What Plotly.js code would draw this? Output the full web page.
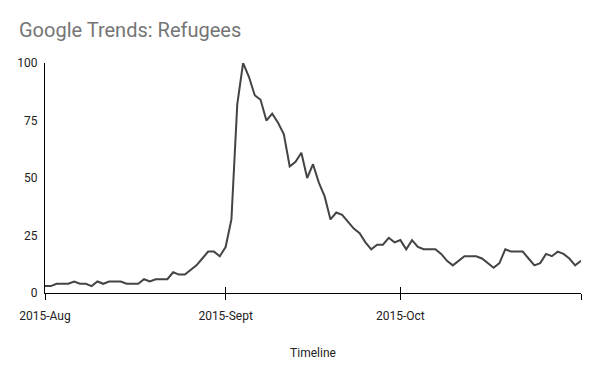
<!DOCTYPE html>
<html>
<head>
<meta charset="utf-8">
<script src="https://cdn.plot.ly/plotly-3.0.1.min.js"></script>
<style>
  html, body { margin: 0; padding: 0; background: #fff; }
  #chart { width: 600px; height: 371px; }
</style>
</head>
<body>
<div id="chart"></div>
<script>
// Daily search interest (Google Trends, "Refugees")
const augValues  = [3,3,4,4,4,5,4,4,3,5,4,5,5,5,4,4,4,6,5,6,6,6,9,8,8,10,12,15,18,18,16];
const septValues = [20,32,82,100,94,86,84,75,78,74,69,55,57,61,50,56,48,42,32,35,34,31,28,26,22,19,21,21,24,22];
const octValues  = [23,19,23,20,19,19,19,17,14,12,14,16,16,16,15,13,11,13,19,18,18,18,15,12,13,17,16,18,17,15,12];
const novValues  = [14];

const monthKeys  = ['2015-08', '2015-09', '2015-10', '2015-11'];
const monthSeries = [augValues, septValues, octValues, novValues];

const tickDates  = ['2015-08-01', '2015-09-01', '2015-10-01', '2015-11-01'];
const tickLabels = ['2015-Aug', '2015-Sept', '2015-Oct', ''];
const yTicks     = [0, 25, 50, 75, 100];

const chartTitle = 'Google Trends: Refugees';
const xTitle     = 'Timeline';

const dates = [], values = [];
monthSeries.forEach((arr, m) => {
  arr.forEach((v, i) => {
    const d = String(i + 1).padStart(2, '0');
    dates.push(monthKeys[m] + '-' + d);
    values.push(v);
  });
});

const font = 'Roboto, "Noto Sans", Arial, sans-serif';

const traces = [
  {
    x: dates, y: values, type: 'scatter', mode: 'lines',
    line: { color: '#444444', width: 2 },
    hoverinfo: 'x+y', showlegend: false
  },
  {
    x: [dates[0]], y: [null], xaxis: 'x2', type: 'scatter', mode: 'lines',
    hoverinfo: 'skip', showlegend: false
  }
];

const layout = {
  width: 600, height: 371,
  margin: { l: 45, r: 19, t: 63, b: 78 },
  paper_bgcolor: '#ffffff', plot_bgcolor: '#ffffff',
  font: { family: font, size: 12, color: '#222222' },
  title: {
    text: chartTitle,
    font: { family: font, size: 20, color: '#757575' },
    xref: 'container', yref: 'container',
    x: 19 / 600, xanchor: 'left',
    y: 1 - 30 / 371, yanchor: 'middle'
  },
  xaxis: {
    type: 'date',
    range: [tickDates[0], tickDates[3]],
    tickmode: 'array', tickvals: tickDates, ticktext: tickLabels,
    ticks: 'outside', ticklen: 6, tickwidth: 1, tickcolor: '#000',
    ticklabelstandoff: 6,
    showline: true, linecolor: '#000', linewidth: 1,
    showgrid: false, zeroline: false,
    tickfont: { family: font, size: 12, color: '#222' },
    title: { text: xTitle, font: { family: font, size: 12, color: '#222' }, standoff: 26 }
  },
  xaxis2: {
    type: 'date', overlaying: 'x', matches: 'x', anchor: 'y',
    range: [tickDates[0], tickDates[3]],
    tickmode: 'array', tickvals: tickDates, ticktext: ['', '', '', ''],
    ticks: 'inside', ticklen: 6, tickwidth: 1, tickcolor: '#000',
    showticklabels: false, showline: false, showgrid: false, zeroline: false
  },
  yaxis: {
    range: [0, 100],
    tickmode: 'array', tickvals: yTicks,
    ticks: '', showline: true, linecolor: '#000', linewidth: 1,
    showgrid: false, zeroline: false,
    ticklabelstandoff: 4,
    tickfont: { family: font, size: 12, color: '#222' }
  }
};

Plotly.newPlot('chart', traces, layout, { displayModeBar: false, staticPlot: true });
</script>
</body>
</html>
